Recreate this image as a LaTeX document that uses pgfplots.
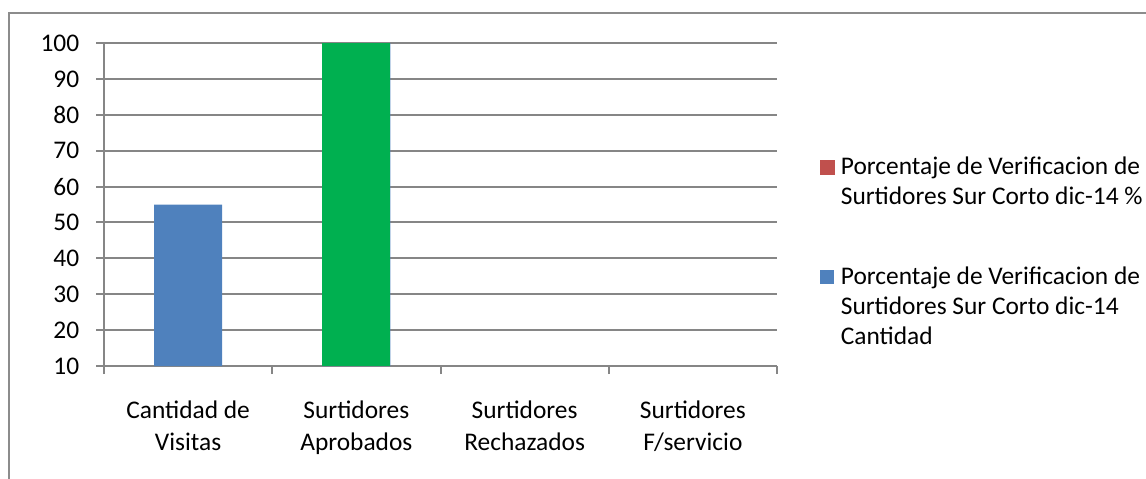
\documentclass[border=0pt]{standalone}
\usepackage{fontspec}
\setmainfont{Carlito}
\usepackage{pgfplots}
\pgfplotsset{compat=1.18}
\definecolor{xlblue}{RGB}{79,129,189}
\definecolor{xlgreen}{RGB}{0,176,80}
\definecolor{xlred}{RGB}{192,80,77}
\definecolor{gridgray}{RGB}{134,134,134}
\definecolor{framegray}{RGB}{140,140,140}

\begin{document}
\fontsize{12.7}{16}\selectfont
\begin{tikzpicture}
\useasboundingbox (0,0) rectangle (573pt,-239pt);
\draw[framegray, line width=1.3pt] (4.5pt,-240pt) -- (4.5pt,-6.5pt) -- (574pt,-6.5pt);
\begin{axis}[
  at={(52pt,-183pt)}, anchor=south west,
  scale only axis, width=336.5pt, height=161.5pt,
  ybar, bar width=34pt, bar shift=0pt,
  ymin=10, ymax=100, ytick={10,20,...,100},
  xmin=-0.5, xmax=3.5,
  xtick={0,1,2,3},
  xticklabels={{Cantidad de\\Visitas},{Surtidores\\Aprobados},{Surtidores\\Rechazados},{Surtidores\\F/servicio}},
  minor xtick={-0.5,0.5,1.5,2.5,3.5},
  major x tick style={draw=none},
  minor x tick style={gridgray, line width=1pt},
  tick align=outside, major tick length=4pt, minor tick length=4pt,
  ytick style={gridgray, line width=1pt},
  axis x line*=bottom, axis y line*=left,
  axis line style={gridgray, line width=1pt},
  ymajorgrids, grid style={gridgray, line width=1pt},
  /pgf/number format/assume math mode=true,
  tick label style={font=\fontsize{12.7}{16}\selectfont},
  xticklabel style={align=center, yshift=-9pt},
  yticklabel style={xshift=-4pt},
  legend style={draw=none, fill=none, at={(1.0545,0.67)}, anchor=north west,
    row sep=26pt, font=\fontsize{12.7}{15}\selectfont,
    nodes={align=left, inner sep=1.5pt}},
  legend cell align=left,
]
% porcentaje series: no bar reaches the visible range
\addlegendimage{legend image code/.code={\fill[xlred] (0pt,4pt) rectangle (7pt,11pt); \path (8.5pt,7pt);}}
\addlegendentry{Porcentaje de Verificacion de\\Surtidores Sur Corto dic-14 \%}
\addplot[fill=xlblue, draw=none, restrict y to domain=10:100,
  legend image code/.code={\fill[xlblue] (0pt,11.5pt) rectangle (7pt,18.5pt); \path (8.5pt,15pt);}]
  coordinates {(0,55) (1,100) (2,0) (3,0)};
\addlegendentry{Porcentaje de Verificacion de\\Surtidores Sur Corto dic-14\\Cantidad}
% the Aprobados bar is coloured green on its own
\addplot[fill=xlgreen, draw=none, forget plot] coordinates {(1,100)};
\end{axis}
\end{tikzpicture}
\end{document}
